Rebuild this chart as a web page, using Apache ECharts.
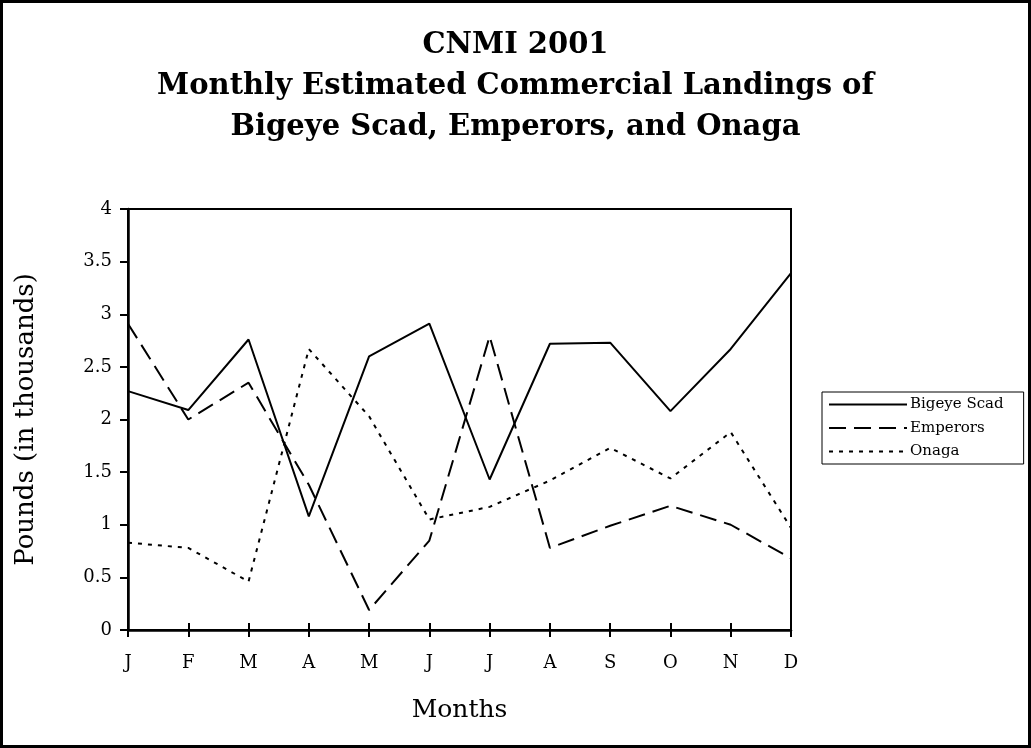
<!DOCTYPE html>
<html>
<head>
<meta charset="utf-8">
<script src="https://cdn.jsdelivr.net/npm/echarts@6/dist/echarts.min.js"></script>
<style>
  html, body { margin: 0; padding: 0; background: #fff; }
  #main { width: 1031px; height: 748px; }
</style>
</head>
<body>
<div id="main"></div>
<script>
var months = ['J', 'F', 'M', 'A', 'M', 'J', 'J', 'A', 'S', 'O', 'N', 'D'];
var bigeyeScad = [2.27, 2.09, 2.76, 1.08, 2.60, 2.91, 1.43, 2.72, 2.73, 2.08, 2.67, 3.39];
var emperors = [2.91, 2.00, 2.35, 1.38, 0.19, 0.85, 2.79, 0.78, 0.99, 1.18, 1.00, 0.68];
var onaga = [0.83, 0.78, 0.46, 2.67, 2.03, 1.05, 1.17, 1.42, 1.73, 1.44, 1.88, 0.97];

var chart = echarts.init(document.getElementById('main'));

function line(name, data, type) {
  return {
    name: name,
    type: 'line',
    data: data,
    symbol: 'none',
    animation: false,
    lineStyle: { color: '#000', width: 2, type: type },
    itemStyle: { color: '#000' }
  };
}

var option = {
  backgroundColor: '#fff',
  graphic: [{
    type: 'rect',
    shape: { x: 1.5, y: 1.5, width: 1028, height: 745 },
    style: { fill: 'none', stroke: '#000', lineWidth: 3 },
    silent: true
  }],
  title: {
    text: 'CNMI 2001\nMonthly Estimated Commercial Landings of\nBigeye Scad, Emperors, and Onaga',
    left: 'center',
    top: 25,
    padding: 0,
    textStyle: {
      fontFamily: 'DejaVu Serif',
      fontWeight: 'bold',
      fontSize: 29,
      lineHeight: 41,
      color: '#000'
    }
  },
  legend: {
    orient: 'vertical',
    left: 822,
    top: 392,
    padding: [5, 20, 5, 6],
    itemGap: 8.5,
    itemWidth: 78,
    itemHeight: 12,
    borderColor: '#000',
    borderWidth: 1,
    borderRadius: 0,
    itemStyle: { opacity: 0 },
    textStyle: { fontFamily: 'DejaVu Serif', fontSize: 15, color: '#000', padding: [0, 0, 0, -2] },
    data: ['Bigeye Scad', 'Emperors', 'Onaga']
  },
  grid: {
    left: 128,
    top: 209,
    width: 663,
    height: 421,
    show: true,
    borderColor: '#000',
    borderWidth: 2,
    containLabel: false
  },
  xAxis: [{
    type: 'category',
    data: months,
    boundaryGap: false,
    name: 'Months',
    nameLocation: 'middle',
    nameGap: 68,
    nameTextStyle: { fontFamily: 'DejaVu Serif', fontSize: 25, color: '#000' },
    axisLine: { lineStyle: { color: '#000', width: 2.5 } },
    axisTick: { show: true, alignWithLabel: true, length: 7, lineStyle: { color: '#000', width: 2 } },
    axisLabel: { fontFamily: 'DejaVu Serif', fontSize: 18, color: '#000', margin: 24 },
    splitLine: { show: false }
  }, {
    type: 'category',
    data: months,
    boundaryGap: false,
    position: 'bottom',
    axisLine: { show: false },
    axisTick: { show: true, inside: true, length: 7, lineStyle: { color: '#000', width: 2 } },
    axisLabel: { show: false },
    splitLine: { show: false }
  }],
  yAxis: {
    type: 'value',
    min: 0,
    max: 4,
    interval: 0.5,
    name: 'Pounds (in thousands)',
    nameLocation: 'middle',
    nameGap: 89,
    nameTextStyle: { fontFamily: 'DejaVu Serif', fontSize: 26, color: '#000' },
    axisLine: { show: true, lineStyle: { color: '#000', width: 2.5 } },
    axisTick: { show: true, length: 8, lineStyle: { color: '#000', width: 2 } },
    axisLabel: { fontFamily: 'DejaVu Serif', fontSize: 18, color: '#000', margin: 16 },
    splitLine: { show: false }
  },
  series: [
    line('Bigeye Scad', bigeyeScad, 'solid'),
    line('Emperors', emperors, [17, 8]),
    line('Onaga', onaga, [4, 6])
  ]
};

chart.setOption(option);
</script>
</body>
</html>
